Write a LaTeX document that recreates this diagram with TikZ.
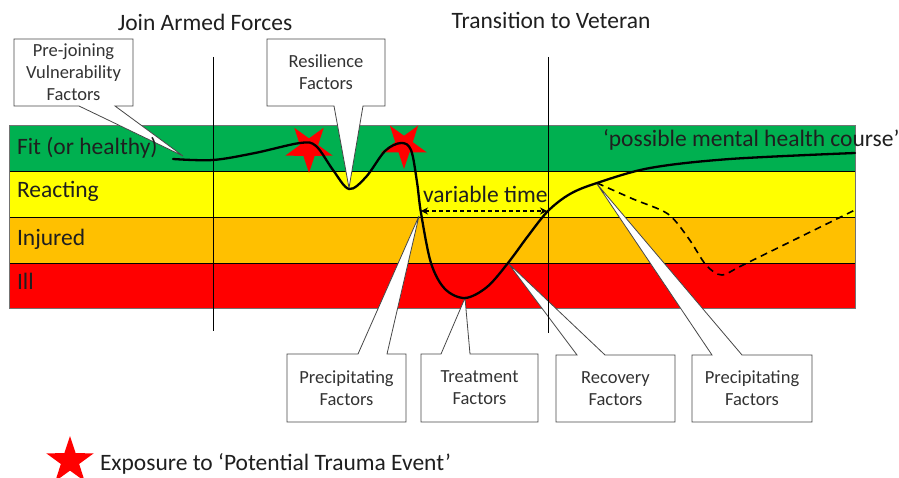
\documentclass[tikz,border=0pt]{standalone}
\usepackage{fontspec}
\setmainfont{Carlito}
\usetikzlibrary{shapes.geometric,arrows.meta,calc}
\pgfdeclarelayer{bandlayer}
\pgfdeclarelayer{calloutlayer}
\pgfsetlayers{bandlayer,calloutlayer,main}
\definecolor{bandgreen}{RGB}{0,176,80}
\definecolor{bandyellow}{RGB}{255,255,0}
\definecolor{bandorange}{RGB}{255,192,0}
\definecolor{bandred}{RGB}{255,0,0}
\begin{document}
\begin{tikzpicture}[x=1pt,y=-1pt,
  bigtext/.style={font=\fontsize{23.5}{28}\selectfont, inner sep=0pt, outer sep=0pt, text=black!88},
  boxtext/.style={font=\fontsize{18.5}{22}\selectfont, align=center, text=black!80, inner sep=0pt, outer sep=0pt},
  calloutshape/.style={fill=white, draw=black!72, line width=0.8pt, line join=miter},
  bandline/.style={draw=black, line width=0.8pt},
  bandedge/.style={draw=black!55, line width=0.9pt},
  divider/.style={draw=black, line width=0.8pt},
  course/.style={draw=black, line width=2.3pt, line cap=round, line join=round},
  dashcourse/.style={draw=black, line width=1.6pt, dash pattern=on 7pt off 5pt},
  vtarrow/.style={draw=black, line width=1.5pt, dash pattern=on 4pt off 3pt, {Stealth[length=7pt,width=7pt]}-{Stealth[length=7pt,width=7pt]}},
  traumastar/.style={star, star points=5, star point ratio=2.6, fill=red, draw=none, minimum size=50pt, inner sep=0pt, outer sep=0pt}
]
\useasboundingbox (0,0) rectangle (899,478);

% ---------- bands ----------
\begin{pgfonlayer}{bandlayer}
\fill[white] (0,0) rectangle (899,478);
\fill[bandgreen]  (9,125) rectangle (855,171);
\fill[bandyellow] (9,171) rectangle (855,217);
\fill[bandorange] (9,217) rectangle (855,263);
\fill[bandred]    (9,263) rectangle (855,308);
\draw[bandline] (9,171) -- (855,171);
\draw[bandline] (9,217) -- (855,217);
\draw[bandline] (9,263) -- (855,263);
\draw[bandedge] (9,125) rectangle (855,308);
\end{pgfonlayer}

% ---------- band labels and titles ----------
\node[bigtext, anchor=base west] (fit) at (17,155) {Fit (or healthy)};
\node[bigtext, anchor=base west] (reacting) at (17,198) {Reacting};
\node[bigtext, anchor=base west] (injured) at (17,246) {Injured};
\node[bigtext, anchor=base west] (ill) at (17,290) {Ill};
\node[bigtext, anchor=base] (join) at (205,31) {Join Armed Forces};
\node[bigtext, anchor=base] (transition) at (551,29) {Transition to Veteran};
\node[bigtext, anchor=base west] (course) at (603,147) {‘possible mental health course’};
\node[bigtext, anchor=base west] (vt) at (423,203) {variable time};

% ---------- callout texts ----------
\node[boxtext, minimum width=119pt, minimum height=67pt] (prejoin) at (73.5,72.5) {Pre-joining\\Vulnerability\\Factors};
\node[boxtext, minimum width=118pt, minimum height=67pt] (resil) at (326,72.5) {Resilience\\Factors};
\node[boxtext, minimum width=119pt, minimum height=68pt] (precipA) at (346.5,388) {Precipitating\\Factors};
\node[boxtext, minimum width=117pt, minimum height=68pt] (treat) at (479.5,388) {Treatment\\Factors};
\node[boxtext, minimum width=119pt, minimum height=67pt] (recov) at (615.5,388.5) {Recovery\\Factors};
\node[boxtext, minimum width=120pt, minimum height=67pt] (precipB) at (752,388.5) {Precipitating\\Factors};

% ---------- pointer tips ----------
\coordinate (tipPre) at (183,156);
\coordinate (tipRes) at (349,188);
\coordinate (tipPA) at (419,216);
\coordinate (tipTr) at (465,298);
\coordinate (tipRec) at (508,263);
\coordinate (tipPB) at (597,184);

% ---------- callout shapes ----------
\begin{pgfonlayer}{calloutlayer}
\draw[calloutshape] (prejoin.north west) -- (prejoin.north east) -- (prejoin.south east)
  -- ($(prejoin.south west)+(101,0)$) -- (tipPre) -- ($(prejoin.south west)+(65,0)$)
  -- (prejoin.south west) -- cycle;
\draw[calloutshape] (resil.north west) -- (resil.north east) -- (resil.south east)
  -- ($(resil.south west)+(96,0)$) -- (tipRes) -- ($(resil.south west)+(67,0)$)
  -- (resil.south west) -- cycle;
\draw[calloutshape] (precipA.south west) -- (precipA.north west)
  -- ($(precipA.north west)+(71,0)$) -- (tipPA) -- ($(precipA.north west)+(100,0)$)
  -- (precipA.north east) -- (precipA.south east) -- cycle;
\draw[calloutshape] (treat.south west) -- (treat.north west)
  -- ($(treat.north west)+(20,0)$) -- (tipTr) -- ($(treat.north west)+(49,0)$)
  -- (treat.north east) -- (treat.south east) -- cycle;
\draw[calloutshape] (recov.south west) -- (recov.north west)
  -- ($(recov.north west)+(21,0)$) -- (tipRec) -- ($(recov.north west)+(49,0)$)
  -- (recov.north east) -- (recov.south east) -- cycle;
\draw[calloutshape] (precipB.south west) -- (precipB.north west)
  -- ($(precipB.north west)+(20,0)$) -- (tipPB) -- ($(precipB.north west)+(50,0)$)
  -- (precipB.north east) -- (precipB.south east) -- cycle;
\end{pgfonlayer}

% ---------- dividers ----------
\coordinate (joinTop) at (213,57);
\coordinate (joinBot) at (213,331);
\coordinate (vetTop) at (548,57);
\coordinate (vetBot) at (548,333);
\draw[divider] (joinTop) -- (joinBot);
\draw[divider] (vetTop) -- (vetBot);

% ---------- stars ----------
\node[traumastar, shape border rotate=180] (starA) at (309,148) {};
\node[traumastar, shape border rotate=180, minimum size=48pt] (starB) at (404,145) {};
\node[traumastar, minimum size=50pt] (starLegend) at (70,461) {};
\node[bigtext, anchor=base west] (legend) at (100,470) {Exposure to ‘Potential Trauma Event’};

% ---------- course ----------
\draw[dashcourse] plot[smooth, tension=0.5] coordinates {(597,183) (633,199) (668,214) (689,239) (706,265) (722,275) (745,264) (855,210)};
\draw[course] plot[smooth, tension=0.55] coordinates {(173,159) (213,160) (255,153) (300,143) (316,146) (333,170) (349,189) (366,177) (385,151) (401,143) (411,150) (417,182) (421,213) (431,263) (445,289) (465,298) (487,287) (508,263) (528,236) (548,211) (570,194) (597,183) (650,168) (730,159) (855,153)};

% ---------- variable time ----------
\coordinate (vtL) at (421,211);
\coordinate (vtR) at (547,211);
\draw[vtarrow] (vtL) -- (vtR);
\end{tikzpicture}
\end{document}
